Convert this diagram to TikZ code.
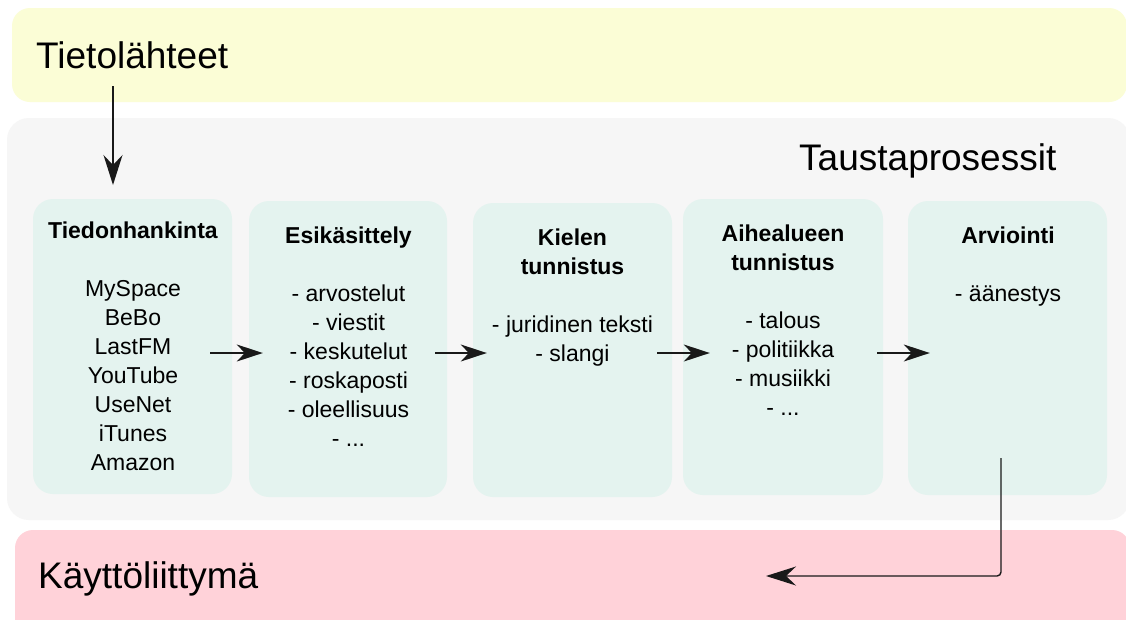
\documentclass[tikz,border=0pt]{standalone}
\usepackage{fontspec}
\setmainfont{Liberation Sans}
\usetikzlibrary{arrows.meta}
\definecolor{srcfill}{RGB}{251,253,214}
\definecolor{bgfill}{RGB}{246,246,246}
\definecolor{boxfill}{RGB}{228,243,239}
\definecolor{uifill}{RGB}{255,210,217}
\definecolor{linecol}{RGB}{25,25,25}
\begin{document}
\begin{tikzpicture}[x=1pt,y=-1pt,
  band/.style={draw=none, inner sep=0pt, rounded corners=18pt},
  stagebox/.style={draw=none, fill=boxfill, inner sep=0pt, rounded corners=20pt},
  stagetext/.style={anchor=north, inner sep=0pt, align=center, font=\fontsize{23}{29}\selectfont},
  bigtitle/.style={anchor=base west, inner sep=0pt, font=\fontsize{37}{44}\selectfont},
  arr/.style={draw=linecol, line width=1.4pt, -{Stealth[length=26pt,width=17pt,inset=8pt]}},
  bigarr/.style={draw=linecol, line width=1.4pt, -{Stealth[length=30pt,width=19pt,inset=10pt]}}
]
\useasboundingbox (0,0) rectangle (1126,619);
\clip (0,0) rectangle (1126,619);
\fill[white] (0,0) rectangle (1126,619);

% bands
\node[band, fill=srcfill, minimum width=1115pt, minimum height=94pt] (src) at (569.5,55) {};
\node[band, fill=bgfill, minimum width=1123pt, minimum height=402pt, rounded corners=22pt] (bg) at (568.5,319) {};
\node[band, fill=uifill, minimum width=1115pt, minimum height=110pt] (ui) at (572.5,585) {};

\node[bigtitle] (srctitle) at (36,68) {Tietolähteet};
\node[bigtitle] (bgtitle) at (799,170) {Taustaprosessit};
\node[bigtitle] (uititle) at (38,588) {Käyttöliittymä};

% stage boxes
\node[stagebox, minimum width=199pt, minimum height=295pt] (b1) at (132.5,346.5) {};
\node[stagebox, minimum width=198pt, minimum height=296pt] (b2) at (348,349) {};
\node[stagebox, minimum width=199pt, minimum height=294pt] (b3) at (572.5,350) {};
\node[stagebox, minimum width=200pt, minimum height=296pt] (b4) at (783,347) {};
\node[stagebox, minimum width=199pt, minimum height=294pt] (b5) at (1007.5,348) {};

\node[stagetext] (t1) at (133,221.5) {\textbf{Tiedonhankinta}\\[29pt]MySpace\\BeBo\\LastFM\\YouTube\\UseNet\\iTunes\\Amazon};
\node[stagetext] (t2) at (348.5,226.5) {\textbf{Esikäsittely}\\[29pt]- arvostelut\\- viestit\\- keskutelut\\- roskaposti\\- oleellisuus\\- ...};
\node[stagetext] (t3) at (572.5,228.5) {\textbf{Kielen}\\\textbf{tunnistus}\\[29pt]- juridinen teksti\\- slangi};
\node[stagetext] (t4) at (783,224.5) {\textbf{Aihealueen}\\\textbf{tunnistus}\\[29pt]- talous\\- politiikka\\- musiikki\\- ...};
\node[stagetext] (t5) at (1008,226.5) {\textbf{Arviointi}\\[29pt]- äänestys};

% connectors
\coordinate (srcout) at (113,86);
\coordinate (b1in) at (113,185);
\draw[bigarr] (srcout) -- (b1in);

\draw[arr] ([xshift=-22pt,yshift=-6.5pt]b1.east) -- ([xshift=14pt,yshift=-4pt]b2.west);
\draw[arr] ([xshift=-12pt,yshift=-4pt]b2.east) -- ([xshift=14pt,yshift=-3pt]b3.west);
\draw[arr] ([xshift=-15pt,yshift=-3pt]b3.east) -- ([xshift=27pt,yshift=-6pt]b4.west);
\draw[arr] ([xshift=-6pt,yshift=-6pt]b4.east) -- ([xshift=22pt,yshift=-5pt]b5.west);

\coordinate (evalout) at (1001,458);
\coordinate (uiin) at (766,576);
\draw[bigarr, rounded corners=4pt] (evalout) |- (uiin);
\end{tikzpicture}
\end{document}
